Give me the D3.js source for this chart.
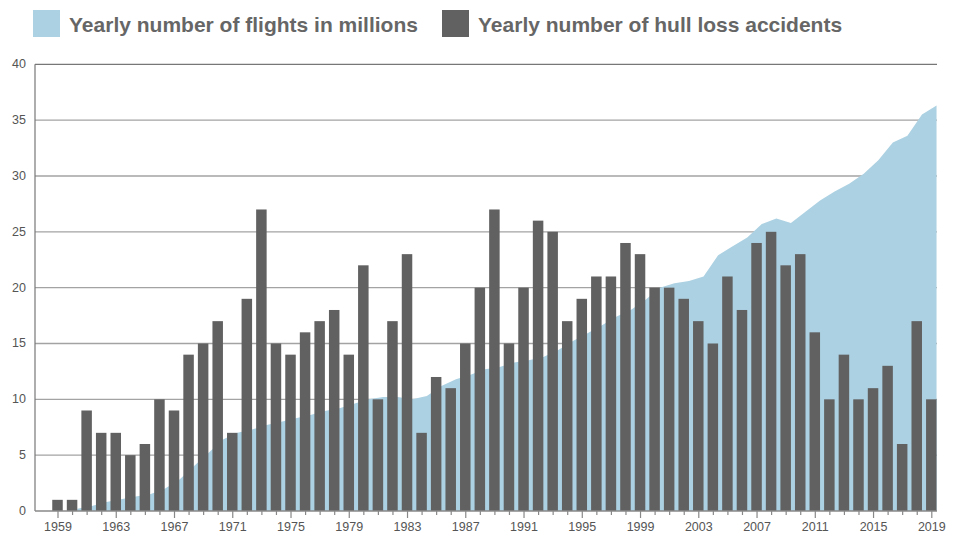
<!DOCTYPE html>
<html>
<head>
<meta charset="utf-8">
<script src="https://cdn.jsdelivr.net/npm/d3@7"></script>
<style>
  body { margin: 0; background: #fff; }
  svg { display: block; font-family: "Liberation Sans", Arial, Helvetica, sans-serif; }
</style>
</head>
<body>
<svg id="chart" width="959" height="535"></svg>
<script>
// hull loss accidents per year, 1959-2019
const years = d3.range(1959, 2020);
const accidents = [
  1, 1, 9, 7, 7, 5, 6, 10, 9, 14, 15, 17, 7, 19, 27, 15, 14, 16, 17, 18,
  14, 22, 10, 17, 23, 7, 12, 11, 15, 20, 27, 15, 20, 26, 25, 17, 19, 21, 21, 24,
  23, 20, 20, 19, 17, 15, 21, 18, 24, 25, 22, 23, 16, 10, 14, 10, 11, 13, 6, 17,
  10
];

// flights in millions, 1960-2019
const flightYears = d3.range(1960, 2020);
const flights = [
  0.2, 0.45, 0.8, 1.05, 1.3, 1.5, 2.0, 2.8, 4.0, 5.2,
  6.4, 7.0, 7.3, 7.7, 8.0, 8.3, 8.6, 8.95, 9.2, 9.6,
  10.0, 10.2, 10.2, 10.0, 10.3, 11.2, 11.8, 12.2, 12.7, 12.9,
  13.3, 13.5, 13.8, 14.4, 15.2, 15.9, 16.6, 17.4, 18.0, 18.9,
  20.0, 20.4, 20.6, 21.0, 22.9, 23.7, 24.5, 25.7, 26.2, 25.8,
  26.8, 27.8, 28.6, 29.3, 30.2, 31.4, 33.0, 33.6, 35.5, 36.3
];

const yTicks = [0, 5, 10, 15, 20, 25, 30, 35, 40];
const labelYears = d3.range(1959, 2020, 4);
const legendItems = ["Yearly number of flights in millions", "Yearly number of hull loss accidents"];

const svg = d3.select("#chart"),
  plotLeft = 35,
  plotRight = 937,
  plotTop = 64.3,
  plotBottom = 511,
  barWidth = 10.5,
  blue = "#acd1e2",
  grey = "#616161";

const x = d3.scaleLinear().domain([1959, 2019]).range([57.5, 931.3]);
const y = d3.scaleLinear().domain([0, 40]).range([plotBottom, plotTop]);

// gridlines (under the area)
svg
  .append("g")
  .selectAll("line")
  .data(yTicks.filter((t) => t > 0 && t < 40))
  .enter()
  .append("line")
  .attr("x1", plotLeft)
  .attr("x2", plotRight)
  .attr("y1", (d) => y(d))
  .attr("y2", (d) => y(d))
  .attr("stroke", "#a3a3a3")
  .attr("stroke-width", 1.3);

// flights area, vertices sit on the right edge of each bar
const area = d3
  .area()
  .x((d, i) => x(flightYears[i]) + barWidth / 2)
  .y0(plotBottom)
  .y1((d) => y(d));

svg
  .append("path")
  .datum(flights)
  .attr("d", area)
  .attr("fill", blue);

// accident bars
svg
  .append("g")
  .selectAll("rect")
  .data(accidents)
  .enter()
  .append("rect")
  .attr("x", (d, i) => x(years[i]) - barWidth / 2)
  .attr("width", barWidth)
  .attr("y", (d) => y(d))
  .attr("height", (d) => plotBottom - y(d))
  .attr("fill", grey);

// frame: top line and left axis
svg
  .append("line")
  .attr("x1", plotLeft)
  .attr("x2", plotRight)
  .attr("y1", y(40))
  .attr("y2", y(40))
  .attr("stroke", "#777")
  .attr("stroke-width", 1.2);
svg
  .append("line")
  .attr("x1", plotLeft)
  .attr("x2", plotLeft)
  .attr("y1", y(40))
  .attr("y2", plotBottom)
  .attr("stroke", "#777")
  .attr("stroke-width", 1.2);

// y labels
svg
  .append("g")
  .selectAll("text")
  .data(yTicks)
  .enter()
  .append("text")
  .attr("x", 26)
  .attr("y", (d) => y(d))
  .attr("dy", "0.32em")
  .attr("text-anchor", "end")
  .attr("font-size", 12.5)
  .attr("fill", "#555")
  .text((d) => d);

// x axis
const xAxis = d3
  .axisBottom(x)
  .tickValues(years)
  .tickSize(0)
  .tickFormat("");

const xg = svg
  .append("g")
  .attr("transform", `translate(0,${plotBottom})`)
  .call(xAxis);
xg.select(".domain").remove();

xg.selectAll(".tick line")
  .attr("stroke", "#888")
  .attr("stroke-width", 1.2)
  .attr("y2", (d) => (labelYears.includes(d) ? 7 : 4));

xg.selectAll(".tick text")
  .filter((d) => labelYears.includes(d))
  .text((d) => d)
  .attr("y", 11.5)
  .attr("dy", "0.71em")
  .attr("font-size", 12.5)
  .attr("font-family", "Liberation Sans, Arial, sans-serif")
  .attr("fill", "#555");

svg
  .append("line")
  .attr("x1", plotLeft)
  .attr("x2", plotRight)
  .attr("y1", plotBottom)
  .attr("y2", plotBottom)
  .attr("stroke", "#888")
  .attr("stroke-width", 1.5);

// legend
const legend = svg
  .append("g")
  .selectAll("g")
  .data(legendItems)
  .enter()
  .append("g")
  .attr("transform", (d, i) => `translate(${i === 0 ? 33 : 442},10)`);

legend
  .append("rect")
  .attr("width", 27)
  .attr("height", 27)
  .attr("fill", (d, i) => (i === 0 ? blue : grey));

legend
  .append("text")
  .attr("x", 36)
  .attr("y", 21.5)
  .attr("font-size", 21)
  .attr("font-weight", "bold")
  .attr("fill", "#666")
  .text((d) => d);
</script>
</body>
</html>
